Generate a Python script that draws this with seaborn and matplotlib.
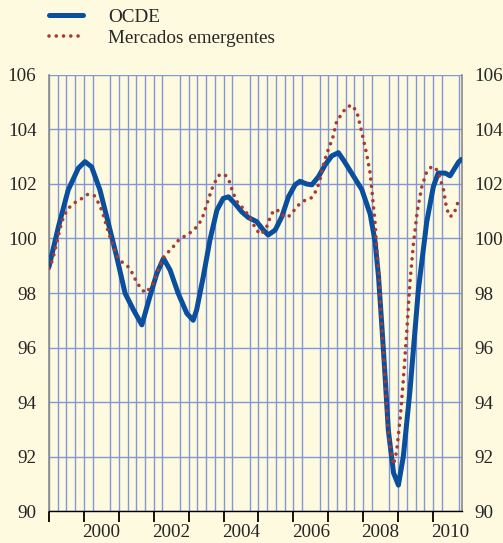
import numpy as np
import pandas as pd
import matplotlib
matplotlib.use("Agg")
import matplotlib.pyplot as plt
import seaborn as sns
from matplotlib.ticker import FixedLocator, NullFormatter

# === Data (decimal years) ===
ocde_t = [1999.00, 1999.27, 1999.55, 1999.84, 2000.03, 2000.22, 2000.46, 2000.70, 2000.94,
          2001.18, 2001.42, 2001.66, 2001.89, 2002.09, 2002.28, 2002.47, 2002.70, 2002.95,
          2003.13, 2003.23, 2003.42, 2003.61, 2003.81, 2003.99, 2004.14, 2004.33, 2004.52,
          2004.71, 2004.95, 2005.14, 2005.28, 2005.48, 2005.67, 2005.86, 2006.05, 2006.19,
          2006.38, 2006.53, 2006.72, 2006.91, 2007.10, 2007.29, 2007.45, 2007.62, 2007.96,
          2008.20, 2008.34, 2008.44, 2008.53, 2008.63, 2008.72, 2008.87, 2009.01, 2009.15,
          2009.34, 2009.58, 2009.82, 2010.01, 2010.15, 2010.35, 2010.49, 2010.73, 2010.81]
ocde_v = [98.96, 100.43, 101.78, 102.58, 102.82, 102.63, 101.78, 100.56, 99.33,
          97.99, 97.38, 96.83, 97.87, 98.72, 99.27, 98.84, 97.99, 97.25,
          97.00, 97.38, 98.60, 99.94, 101.04, 101.47, 101.53, 101.28, 100.98,
          100.77, 100.62, 100.31, 100.13, 100.31, 100.80, 101.53, 101.97, 102.10,
          102.00, 101.97, 102.27, 102.70, 103.03, 103.15, 102.85, 102.50, 101.80,
          100.90, 99.90, 98.60, 96.90, 94.90, 92.97, 91.40, 90.95, 92.00,
          94.40, 98.10, 100.60, 101.90, 102.40, 102.40, 102.30, 102.80, 102.90]

emerg_t = [1999.00, 1999.08, 1999.15, 1999.25, 1999.36, 1999.44, 1999.55, 1999.72, 1999.92,
           2000.11, 2000.30, 2000.41, 2000.51, 2000.58, 2000.65, 2000.78, 2000.94, 2001.08,
           2001.27, 2001.39, 2001.49, 2001.61, 2001.75, 2001.92, 2002.02, 2002.09, 2002.18,
           2002.25, 2002.40, 2002.56, 2002.70, 2002.90, 2003.09, 2003.25, 2003.38, 2003.52,
           2003.66, 2003.76, 2003.88, 2004.04, 2004.17, 2004.24, 2004.33, 2004.42, 2004.57,
           2004.71, 2004.83, 2004.93, 2005.07, 2005.22, 2005.30, 2005.38, 2005.52, 2005.68,
           2005.84, 2006.00, 2006.14, 2006.34, 2006.53, 2006.65, 2006.75, 2006.84, 2006.97,
           2007.13, 2007.24, 2007.51, 2007.67, 2007.82, 2007.96, 2008.10, 2008.20, 2008.27,
           2008.34, 2008.39, 2008.46, 2008.50, 2008.56, 2008.63, 2008.69, 2008.77, 2008.87,
           2008.96, 2009.06, 2009.15, 2009.25, 2009.34, 2009.44, 2009.55, 2009.68, 2009.82,
           2009.97, 2010.13, 2010.30, 2010.39, 2010.49, 2010.60, 2010.76]
emerg_v = [98.90, 99.15, 99.45, 100.00, 100.58, 100.86, 101.10, 101.30, 101.45,
           101.62, 101.57, 101.32, 101.04, 100.76, 100.45, 99.92, 99.36, 99.15,
           98.96, 98.72, 98.45, 98.21, 98.01, 98.20, 98.44, 98.72, 99.03,
           99.27, 99.48, 99.70, 99.92, 100.10, 100.25, 100.45, 100.71, 101.25,
           101.80, 102.08, 102.33, 102.35, 102.08, 101.80, 101.50, 101.28, 101.10,
           100.86, 100.59, 100.33, 100.15, 100.37, 100.65, 100.92, 101.07, 100.86,
           100.77, 101.00, 101.22, 101.41, 101.50, 101.75, 102.08, 102.61, 103.16,
           103.70, 104.30, 104.80, 104.90, 104.65, 103.90, 103.10, 102.40, 101.50,
           100.60, 99.60, 98.60, 97.40, 96.20, 94.80, 93.30, 92.35, 91.70,
           92.20, 93.40, 94.80, 96.60, 98.40, 99.80, 101.00, 101.90, 102.45,
           102.65, 102.50, 101.80, 101.10, 100.80, 100.90, 101.50]

year_labels = ["2000", "2002", "2004", "2006", "2008", "2010"]
y_ticks = [90, 92, 94, 96, 98, 100, 102, 104, 106]

# === Style ===
BG = "#fdfadf"
GRID = "#8396d6"
BLUE = "#0a4f9e"
RED = "#a83a30"
FS = 13.8

sns.set_style("white")
plt.rcParams["font.family"] = ["Liberation Serif", "DejaVu Serif"]

ocde = pd.DataFrame({"t": ocde_t, "v": ocde_v})
emerg = pd.DataFrame({"t": emerg_t, "v": emerg_v})

fig = plt.figure(figsize=(5.03, 5.43), dpi=100, facecolor=BG)
ax = fig.add_axes([0.0974, 0.0589, 0.821, 0.803], facecolor=BG)

sns.lineplot(data=ocde, x="t", y="v", ax=ax, color=BLUE, linewidth=3.6,
             estimator=None, label="OCDE", solid_capstyle="round", zorder=3)
sns.lineplot(data=emerg, x="t", y="v", ax=ax, color=RED, linewidth=2.6,
             linestyle=(0, (0.01, 2.0)), dash_capstyle="round",
             estimator=None, label="Mercados emergentes", zorder=4)

ax.set_xlim(1999.0, 2010.83)
ax.set_ylim(90, 106)

# quarterly vertical grid + ticks, year ticks longer
quarters = np.arange(1999.0, 2010.83, 0.25)
ax.xaxis.set_minor_locator(FixedLocator(quarters))
ax.xaxis.set_minor_formatter(NullFormatter())
ax.set_xticks([int(y) + 0.5 for y in year_labels])
ax.set_xticklabels(year_labels)
ax.tick_params(axis="x", which="major", length=0, pad=9, labelsize=FS)
ax.tick_params(axis="x", which="minor", length=5, width=1, color="black", direction="out")
ax.grid(True, which="minor", axis="x", color=GRID, linewidth=1)

sec = ax.secondary_xaxis("bottom")
sec.set_xticks(np.arange(1999, 2011))
sec.tick_params(length=8, width=1.3, color="black", labelbottom=False)
sec.spines["bottom"].set_visible(False)

ax.set_yticks(y_ticks)
ax.set_yticklabels([str(v) for v in y_ticks])
ax.tick_params(axis="y", length=0, pad=9, labelsize=FS,
               labelleft=True, labelright=True)
ax.grid(True, which="major", axis="y", color=GRID, linewidth=1)
ax.set_xlabel("")
ax.set_ylabel("")

for side in ["left", "right"]:
    ax.spines[side].set_color("#8a8a8a")
    ax.spines[side].set_linewidth(1.2)
ax.spines["top"].set_visible(False)
ax.spines["bottom"].set_color("black")
ax.spines["bottom"].set_linewidth(1)

ax.legend_.remove()
handles, labels = ax.get_legend_handles_labels()
fig.legend(handles, labels, loc="upper left", bbox_to_anchor=(0.097, 0.985),
           frameon=False, fontsize=FS, handlelength=1.8, handletextpad=1.3,
           labelspacing=0.22, borderpad=0, borderaxespad=0)

fig.savefig("out.png", dpi=100, facecolor=BG)
